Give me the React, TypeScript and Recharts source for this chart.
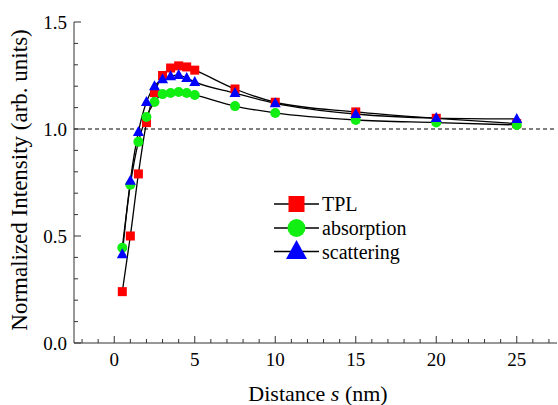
import React from 'react';
import { LineChart, Line, XAxis, YAxis, ReferenceLine, Legend } from 'recharts';

const distances = [0.5, 1, 1.5, 2, 2.5, 3, 3.5, 4, 4.5, 5, 7.5, 10, 15, 20, 25];
const tplValues = [0.24, 0.5, 0.79, 1.03, 1.17, 1.25, 1.285, 1.295, 1.29, 1.275, 1.187, 1.125, 1.08, 1.05, 1.025];
const absorptionValues = [0.445, 0.74, 0.94, 1.056, 1.126, 1.163, 1.168, 1.173, 1.168, 1.159, 1.107, 1.075, 1.042, 1.03, 1.019];
const scatteringValues = [0.415, 0.758, 0.986, 1.126, 1.2, 1.233, 1.247, 1.252, 1.238, 1.22, 1.168, 1.12, 1.07, 1.051, 1.047];

const xTicks = [-2, -1, 0, 1, 2, 3, 4, 5, 6, 7, 8, 9, 10, 11, 12, 13, 14, 15, 16, 17, 18, 19, 20, 21, 22, 23, 24, 25, 26, 27];
const yTicks = [0, 0.1, 0.2, 0.3, 0.4, 0.5, 0.6, 0.7, 0.8, 0.9, 1.0, 1.1, 1.2, 1.3, 1.4, 1.5];
const seriesNames = ['TPL', 'absorption', 'scattering'];

const data = distances.map((d, i) => ({
  s: d,
  tpl: tplValues[i],
  absorption: absorptionValues[i],
  scattering: scatteringValues[i],
}));

const RED = '#ff0000';
const GREEN = '#11ee11';
const BLUE = '#0000ff';
const AXIS = '#333333';
const FONT = 'Liberation Serif';

const isMajorX = (v: number) => Math.abs(v % 5) < 1e-6;
const isMajorY = (v: number) => Math.abs(v * 2 - Math.round(v * 2)) < 1e-6;

const XBottomTick = (props: any) => {
  const { x, y, payload } = props;
  const v = payload.value;
  const major = isMajorX(v);
  return (
    <g>
      <line x1={x} x2={x} y1={y} y2={y - (major ? 7 : 4)} stroke={AXIS} strokeWidth={1} />
      {major && (
        <text x={x} y={y + 23} textAnchor="middle" fontSize={19} fontFamily={FONT} fill="#000">
          {String(v)}
        </text>
      )}
    </g>
  );
};

const XTopTick = (props: any) => {
  const { x, y, payload } = props;
  const major = isMajorX(payload.value);
  return <line x1={x} x2={x} y1={y} y2={y + (major ? 7 : 4)} stroke={AXIS} strokeWidth={1} />;
};

const YLeftTick = (props: any) => {
  const { x, y, payload } = props;
  const v = payload.value;
  const major = isMajorY(v);
  return (
    <g>
      <line x1={x} x2={x + (major ? 7 : 4)} y1={y} y2={y} stroke={AXIS} strokeWidth={1} />
      {major && (
        <text x={x - 7} y={y + 7} textAnchor="end" fontSize={19} fontFamily={FONT} fill="#000">
          {v.toFixed(1)}
        </text>
      )}
    </g>
  );
};

const YRightTick = (props: any) => {
  const { x, y, payload } = props;
  const major = isMajorY(payload.value);
  return <line x1={x} x2={x - (major ? 7 : 4)} y1={y} y2={y} stroke={AXIS} strokeWidth={1} />;
};

const squareDot = (props: any) => {
  const { cx, cy, index } = props;
  if (cx == null || cy == null) return <g key={`sq-${index}`} />;
  return <rect key={`sq-${index}`} x={cx - 4.5} y={cy - 4.5} width={9} height={9} fill={RED} />;
};

const circleDot = (props: any) => {
  const { cx, cy, index } = props;
  if (cx == null || cy == null) return <g key={`ci-${index}`} />;
  return <circle key={`ci-${index}`} cx={cx} cy={cy} r={5} fill={GREEN} />;
};

const triangleDot = (props: any) => {
  const { cx, cy, index } = props;
  if (cx == null || cy == null) return <g key={`tr-${index}`} />;
  const pts = `${cx},${cy - 6} ${cx + 5.5},${cy + 4} ${cx - 5.5},${cy + 4}`;
  return <polygon key={`tr-${index}`} points={pts} fill={BLUE} />;
};

const renderLegend = () => {
  const rows = [14, 38, 61.5];
  return (
    <svg width={160} height={80} style={{ display: 'block' }}>
      {rows.map((ry, i) => (
        <line key={`l-${i}`} x1={4} x2={49} y1={ry} y2={ry} stroke="#000" strokeWidth={1.3} />
      ))}
      <rect x={18.5} y={6} width={16} height={16} fill={RED} />
      <circle cx={26.5} cy={38} r={9} fill={GREEN} />
      <polygon points={`26.5,50 37,69 16,69`} fill={BLUE} />
      {rows.map((ry, i) => (
        <text key={`t-${i}`} x={52} y={ry + 7} fontSize={20} fontFamily={FONT} fill="#000">
          {seriesNames[i]}
        </text>
      ))}
    </svg>
  );
};

export default function App() {
  return (
    <div style={{ position: 'absolute', left: 0, top: 0, width: 558, height: 405, background: '#fff' }}>
      <LineChart width={558} height={405} data={data} margin={{ top: 22, right: 1, bottom: 0, left: 0 }}>
        <XAxis
          dataKey="s"
          type="number"
          domain={[-2.5, 27.5]}
          allowDataOverflow
          ticks={xTicks}
          interval={0}
          height={62}
          tickLine={false}
          tickSize={0}
          tickMargin={0}
          axisLine={{ stroke: AXIS, strokeWidth: 1 }}
          tick={<XBottomTick />}
        />
        <XAxis
          xAxisId="top"
          orientation="top"
          dataKey="s"
          type="number"
          domain={[-2.5, 27.5]}
          allowDataOverflow
          ticks={xTicks}
          interval={0}
          height={0}
          tickLine={false}
          tickSize={0}
          tickMargin={0}
          axisLine={{ stroke: AXIS, strokeWidth: 1 }}
          tick={<XTopTick />}
        />
        <YAxis
          type="number"
          domain={[0, 1.5]}
          allowDataOverflow
          ticks={yTicks}
          interval={0}
          width={74}
          tickLine={false}
          tickSize={0}
          tickMargin={0}
          axisLine={{ stroke: AXIS, strokeWidth: 1 }}
          tick={<YLeftTick />}
        />
        <YAxis
          yAxisId="right"
          orientation="right"
          type="number"
          domain={[0, 1.5]}
          allowDataOverflow
          ticks={yTicks}
          interval={0}
          width={0}
          tickLine={false}
          tickSize={0}
          tickMargin={0}
          axisLine={{ stroke: AXIS, strokeWidth: 1 }}
          tick={<YRightTick />}
        />
        <ReferenceLine y={1} stroke="#000" strokeWidth={1} strokeDasharray="4 3" />
        <Line type="monotone" dataKey="tpl" name={seriesNames[0]} stroke="#000" strokeWidth={1.3} dot={squareDot} activeDot={false} isAnimationActive={false} />
        <Line type="monotone" dataKey="absorption" name={seriesNames[1]} stroke="#000" strokeWidth={1.3} dot={circleDot} activeDot={false} isAnimationActive={false} />
        <Line type="monotone" dataKey="scattering" name={seriesNames[2]} stroke="#000" strokeWidth={1.3} dot={triangleDot} activeDot={false} isAnimationActive={false} />
        <Legend
          layout="vertical"
          align="center"
          verticalAlign="middle"
          content={renderLegend}
          wrapperStyle={{ position: 'absolute', left: 270, top: 190, width: 160, height: 80 }}
        />
      </LineChart>
      <svg width={558} height={405} style={{ position: 'absolute', left: 0, top: 0, pointerEvents: 'none' }}>
        <text x={27} y={180} transform="rotate(-90, 27, 180)" textAnchor="middle" fontSize={23} fontFamily={FONT} fill="#000">
          Normalized Intensity (arb. units)
        </text>
        <text x={318} y={401} textAnchor="middle" fontSize={22} fontFamily={FONT} fill="#000">
          Distance <tspan fontStyle="italic">s</tspan> (nm)
        </text>
      </svg>
    </div>
  );
}
